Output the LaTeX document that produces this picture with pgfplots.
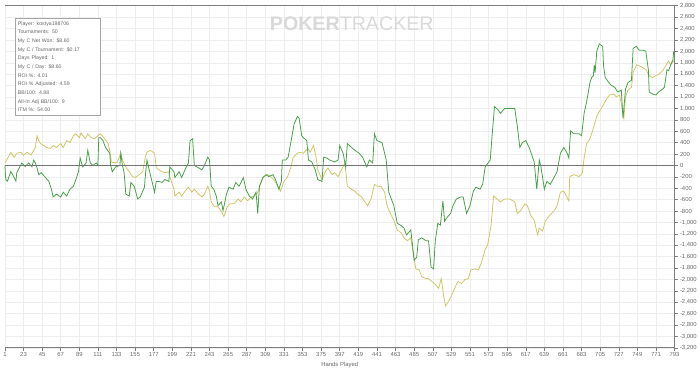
\documentclass[border=0pt]{standalone}
\usepackage{fontspec}
\setmainfont{Liberation Sans}
\usepackage{pgfplots}
\usepackage{pgfplotstable}
\pgfplotsset{compat=1.18}
\definecolor{pgreen}{RGB}{72,160,74}
\definecolor{pyellow}{RGB}{206,198,104}
\definecolor{gridc}{RGB}{238,238,238}
\definecolor{axc}{RGB}{125,125,125}
\definecolor{txtc}{RGB}{105,105,105}

\pgfplotstableread{
h v
1 0
2 -247
4 -276
8 -106
12 -213
14 -276
15 -128
18 -43
21 43
25 -20
29 43
33 -26
35 94
37 43
39 -43
41 -162
44 -128
49 -213
53 -281
56 -417
58 -554
62 -503
67 -554
70 -469
74 -537
78 -417
82 -366
85 -247
88 -111
90 128
93 -26
97 43
99 264
102 43
105 0
109 43
111 0
112 486
114 486
117 435
120 315
125 213
126 0
128 -111
132 -26
137 0
138 213
140 0
142 -128
144 -503
148 -537
150 -298
154 -366
158 -588
161 -554
166 -383
167 -196
169 94
173 -162
178 -469
180 -281
183 -281
187 -298
190 -247
195 -281
196 -26
201 -111
202 -213
207 -111
210 -213
214 -77
218 43
220 435
223 469
225 0
230 -43
234 -77
237 0
241 145
243 94
245 -366
248 -417
251 -537
253 -707
257 -639
259 -792
263 -503
266 -383
271 -417
274 -298
278 -366
283 -213
286 -417
290 -537
294 -588
298 -469
300 -843
302 -366
306 -213
310 -162
313 -196
318 -162
321 -247
325 -417
328 -281
329 94
333 94
336 145
341 554
343 724
347 860
349 826
352 520
354 486
358 435
360 94
364 60
368 -77
371 -247
376 -281
378 145
382 128
385 94
391 60
395 94
397 349
401 213
404 -26
406 383
411 315
415 264
420 213
424 145
429 -26
432 94
436 43
438 554
441 435
447 400
452 94
455 -469
458 -588
461 -707
465 -1014
469 -1048
473 -1099
476 -1218
481 -1133
483 -1389
485 -1661
488 -1610
490 -1304
494 -1269
499 -1321
502 -1321
505 -1781
508 -1815
510 -1321
513 -1014
516 -1048
519 -622
521 -980
523 -929
528 -843
531 -707
535 -588
540 -554
543 -554
547 -843
551 -707
555 -452
558 -383
563 -417
566 -332
569 -26
575 94
577 486
580 1031
584 980
587 912
592 997
601 997
604 997
607 690
610 315
613 400
617 435
621 315
625 145
627 60
630 -417
633 94
635 -26
639 -417
642 -281
646 -332
651 -196
654 -111
658 213
662 315
666 213
668 128
670 605
674 554
680 554
683 520
686 912
689 1116
693 1457
695 1542
697 1576
698 1764
699 1627
701 2002
704 2130
708 2087
709 1747
711 1542
715 1457
718 1406
722 1372
726 1287
730 1321
732 826
735 1338
738 1457
742 1491
744 2053
748 2087
751 2019
756 2019
759 2002
762 1678
763 1287
767 1252
771 1235
774 1287
779 1338
781 1372
784 1678
786 1661
788 1747
791 1849
792 2002
}\greendata

\pgfplotstableread{
h v
1 43
3 94
8 230
12 145
15 213
20 230
23 179
27 230
32 179
35 264
37 315
39 520
41 435
43 383
47 349
50 315
55 298
58 349
62 315
67 383
70 315
74 435
78 400
82 520
85 554
89 486
91 571
96 469
99 554
103 486
107 469
111 520
114 554
119 469
123 383
125 264
127 60
131 43
134 60
138 213
140 94
144 -26
148 -111
152 -196
155 -213
160 -162
164 -111
167 145
169 230
173 264
178 213
180 -43
183 -77
187 -111
190 -128
195 -111
196 -196
201 -417
202 -537
207 -469
210 -537
214 -452
218 -383
222 -469
225 -417
230 -503
234 -554
237 -503
241 -366
243 -452
245 -639
249 -724
253 -724
257 -809
260 -895
264 -724
267 -673
272 -673
277 -588
280 -639
284 -554
288 -622
292 -554
296 -537
300 -469
304 -298
307 -196
312 -162
315 -196
319 -247
324 -366
327 -452
331 -281
335 -213
339 -43
342 145
347 213
350 230
354 213
359 298
362 230
366 349
369 145
371 -77
376 -247
380 -111
383 -43
388 -162
391 -128
395 -196
399 -77
403 43
404 -77
406 -366
411 -417
415 -452
418 -503
423 -554
426 -622
430 -707
434 -588
438 -332
441 -366
446 -366
450 -469
453 -707
458 -878
461 -963
465 -1133
470 -1184
473 -1269
477 -1321
481 -1269
484 -1559
487 -1815
491 -1832
494 -1951
499 -1985
502 -1985
506 -2036
510 -2087
514 -2155
517 -1985
520 -2291
522 -2462
526 -2377
529 -2291
534 -2121
537 -2036
541 -2070
545 -2002
549 -1985
552 -1832
557 -1815
561 -1832
564 -1729
569 -1474
572 -1389
576 -1048
579 -537
583 -588
587 -639
592 -588
598 -588
604 -639
607 -843
611 -792
616 -673
619 -707
623 -878
627 -963
631 -1218
633 -1099
637 -1150
640 -980
645 -878
651 -792
654 -707
658 -469
662 -452
665 -537
668 -622
669 -196
674 -162
680 -196
684 -128
686 128
689 383
693 469
697 656
701 860
704 946
709 1065
712 1150
716 1235
721 1252
724 1201
728 1235
731 997
733 826
735 1201
738 1321
742 1372
744 1627
748 1764
751 1747
756 1712
759 1678
763 1576
767 1542
771 1576
774 1593
779 1661
783 1764
786 1832
788 1764
792 1832
}\yellowdata

\begin{document}
\begin{tikzpicture}
\begin{axis}[
  scale only axis, width=679bp, height=347bp,
  xmin=1, xmax=793, ymin=-3200, ymax=2800,
  axis x line*=bottom, axis y line*=right,
  xtick={1,23,...,793}, ytick distance=200,
  grid=major, major grid style={gridc, line width=0.5pt},
  tick style={axc, line width=0.5pt}, tick align=outside, major tick length=3bp,
  axis line style={axc, line width=0.9pt},
  ticklabel style={font=\fontsize{6}{6}\selectfont, text=txtc},
  xticklabel style={yshift=1.5bp},
  yticklabel style={xshift=-1bp},
  /pgf/number format/assume math mode=true,
  /pgf/number format/1000 sep={,},
  xlabel={Hands Played},
  xlabel style={font=\fontsize{6}{6}\selectfont, text=txtc, yshift=2bp},
  clip=false,
]
\addplot[pyellow, line width=0.8pt] table[x=h, y=v] {\yellowdata};
\addplot[pgreen, line width=0.8pt] table[x=h, y=v] {\greendata};
\addplot[black!55, line width=0.9pt] coordinates {(1,0) (793,0)};
\draw[axc, line width=0.9pt] (rel axis cs:0,1) -- (rel axis cs:1,1);
\node[text=black!15, font=\fontsize{20}{20}\selectfont] at (rel axis cs:0.518,0.946) {\textbf{POKER}TRACKER};
\node[anchor=north west, draw=black!35, fill=white, inner xsep=3bp, inner ysep=3bp,
      text=txtc, font=\fontsize{5.3}{8.8}\selectfont, align=left, text width=80bp]
  at (rel axis cs:0.0147,0.963)
  {Player: kostya198706\\Tournaments: 50\\My C Net Won: \$8.60\\My C / Tournament: \$0.17\\Days Played: 1\\My C / Day: \$8.60\\ROI \%: 4.01\\ROI \% Adjusted: 4.59\\BB/100: 4.88\\All-In Adj BB/100: 9\\ITM \%: 54.00};
\end{axis}
\end{tikzpicture}
\end{document}
